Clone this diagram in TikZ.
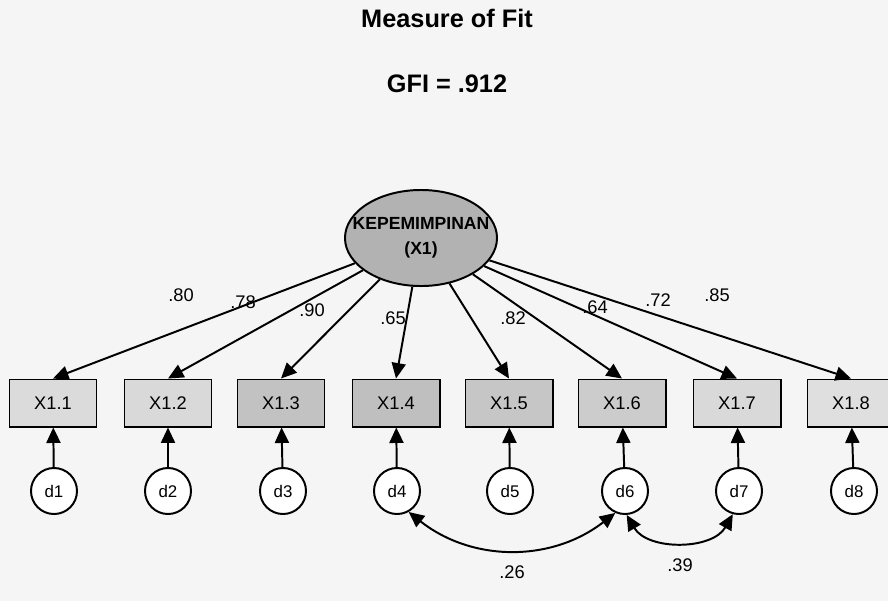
\documentclass[tikz,border=0pt]{standalone}
\usepackage{fontspec}
\setmainfont{Liberation Sans}
\usetikzlibrary{arrows.meta, shapes.geometric}

\begin{document}
\begin{tikzpicture}[x=0.025cm, y=-0.025cm, ->, >={Triangle[length=11pt,width=10pt]}, line width=1.4pt,
    obs/.style={draw, rectangle, minimum width=2.175cm, minimum height=1.175cm, font=\fontsize{13}{15}\selectfont},
    err/.style={draw, circle, fill=white, minimum size=1.15cm, inner sep=0pt, font=\fontsize{12}{14}\selectfont},
    lat/.style={draw, ellipse, fill=gray!60, minimum width=3.8cm, minimum height=2.4cm, inner sep=0pt},
    lattext/.style={align=center, font=\bfseries\fontsize{12.5}{17.7}\selectfont},
    coef/.style={font=\fontsize{13}{15}\selectfont}]
      \fill[gray!8, -] (0,0) rectangle (888,601);
      \useasboundingbox (0,0) rectangle (888,601);
      \node[font=\bfseries\fontsize{18}{20}\selectfont] (title) at (447,18) {Measure of Fit};
      \node[font=\bfseries\fontsize{18}{20}\selectfont] (gfi) at (447,84) {GFI = .912};
      \node[lat] (x1) at (421,238) {};
      \node[lattext] (x1name) at (x1.center) {KEPEMIMPINAN\\(X1)};
      % indicators
      \node[obs, fill=gray!28] (x11) at (53,403) {X1.1};
      \node[obs, fill=gray!30] (x12) at (168,403) {X1.2};
      \node[obs, fill=gray!48] (x13) at (281,403) {X1.3};
      \node[obs, fill=gray!50] (x14) at (396,403) {X1.4};
      \node[obs, fill=gray!45] (x15) at (509,403) {X1.5};
      \node[obs, fill=gray!40] (x16) at (622,403) {X1.6};
      \node[obs, fill=gray!30] (x17) at (737,403) {X1.7};
      \node[obs, fill=gray!25] (x18) at (851,403) {X1.8};
      % errors
      \node[err] (d1) at (54,491) {d1};
      \node[err] (d2) at (168,491) {d2};
      \node[err] (d3) at (283,491) {d3};
      \node[err] (d4) at (397,491) {d4};
      \node[err] (d5) at (510,491) {d5};
      \node[err] (d6) at (625,491) {d6};
      \node[err] (d7) at (739,491) {d7};
      \node[err] (d8) at (854,491) {d8};
      % loadings
      \node[coef] (l1) at (181,295) {.80};
      \node[coef] (l2) at (243,302) {.78};
      \node[coef] (l3) at (312,310) {.90};
      \node[coef] (l4) at (393,318) {.65};
      \node[coef] (l5) at (513,318) {.82};
      \node[coef] (l6) at (595,307) {.64};
      \node[coef] (l7) at (658,300) {.72};
      \node[coef] (l8) at (717,295) {.85};
      \node[coef] (c46) at (512,572) {.26};
      \node[coef] (c67) at (680,565) {.39};
      \path (x1) edge (x11.north)
      (x1) edge (x12.north)
      (x1) edge (x13.north)
      (x1) edge (x14.north)
      (x1) edge (x15.north)
      (x1) edge (x16.north)
      (x1) edge (x17.north)
      (x1) edge (x18.north);
      \path (d1) edge (x11)
      (d2) edge (x12)
      (d3) edge (x13)
      (d4) edge (x14)
      (d5) edge (x15)
      (d6) edge (x16)
      (d7) edge (x17)
      (d8) edge (x18);
      \path (d4.-61) edge [<->, bend right=38] (d6.-114)
      (d6.-86) edge [<->, bend right=60] (d7.-105);
    \end{tikzpicture}
\end{document}
